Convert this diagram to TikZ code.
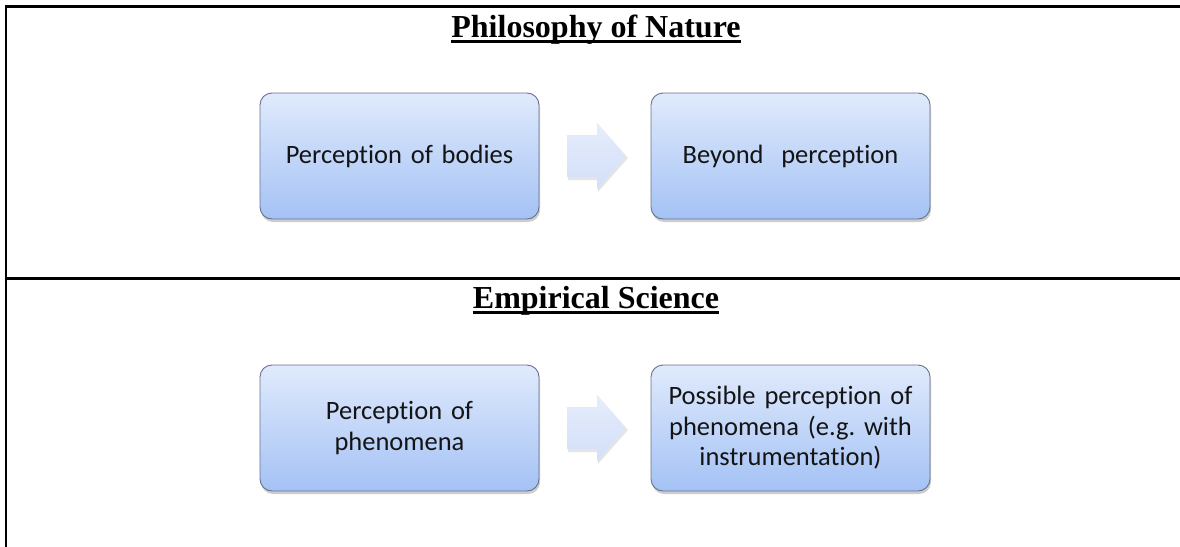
\documentclass[tikz,border=0pt]{standalone}
\usepackage{fontspec}
\setmainfont{Liberation Serif}
\newfontfamily\boxfont[Ligatures={NoCommon}]{Carlito}
\usetikzlibrary{shadows}
\definecolor{boxtop}{HTML}{E0EAFC}
\definecolor{boxbot}{HTML}{A4C2F5}
\definecolor{boxline}{HTML}{67728A}
\definecolor{arrtop}{HTML}{E6EDFB}
\definecolor{arrbot}{HTML}{D2DFF9}
\tikzset{
  stepbox/.style={draw=boxline, line width=0.9pt, rounded corners=12pt,
    top color=boxtop, bottom color=boxbot,
    minimum width=279pt, minimum height=126pt, inner sep=4pt,
    text width=265pt, align=center, text=black!92,
    font=\boxfont\frenchspacing\fontsize{26.5}{30.5}\selectfont,
    drop shadow={opacity=0.28, shadow xshift=1pt, shadow yshift=-3pt, fill=black!70}},
  frameline/.style={line width=2.6pt, black},
  titletext/.style={anchor=base, inner sep=0pt, font=\bfseries\fontsize{32}{36}\selectfont},
  uline/.style={line width=2.6pt},
  flowarrow/.style={top color=arrtop, bottom color=arrbot, draw=none}
}
\begin{document}
\begin{tikzpicture}[x=1pt,y=-1pt]
\useasboundingbox (0,0) rectangle (1180,546);
% frame
\draw[frameline] (6,548) -- (6,6.5) -- (1182,6.5);
\draw[frameline] (6,278.5) -- (1182,278.5);
% titles
\node[titletext] (t1) at (596,37) {Philosophy of Nature};
\draw[uline] ([yshift=-4.5pt]t1.base west) -- ([yshift=-4.5pt]t1.base east);
\node[titletext] (t2) at (596,308) {Empirical Science};
\draw[uline] ([yshift=-4.5pt]t2.base west) -- ([yshift=-4.5pt]t2.base east);
% top row
\node[stepbox] (b1) at (399.5,156) {Perception of bodies};
\node[stepbox] (b2) at (790.5,156) {Beyond\ \ perception};
% bottom row
\node[stepbox] (b3) at (399.5,428) {Perception of\\phenomena};
\node[stepbox] (b4) at (790.5,428) {Possible perception of\\phenomena (e.g. with\\instrumentation)};
% arrows
\foreach \yy in {156,428}{
  \fill[black, opacity=0.10] (568,\yy-19) -- (598,\yy-19) -- (598,\yy-31) -- (628,\yy+2) -- (598,\yy+36) -- (598,\yy+24) -- (568,\yy+24) -- cycle;
  \shade[flowarrow] (567,\yy-21) -- (597,\yy-21) -- (597,\yy-33.5) -- (626,\yy) -- (597,\yy+33.5) -- (597,\yy+21) -- (567,\yy+21) -- cycle;
}
\end{tikzpicture}
\end{document}
